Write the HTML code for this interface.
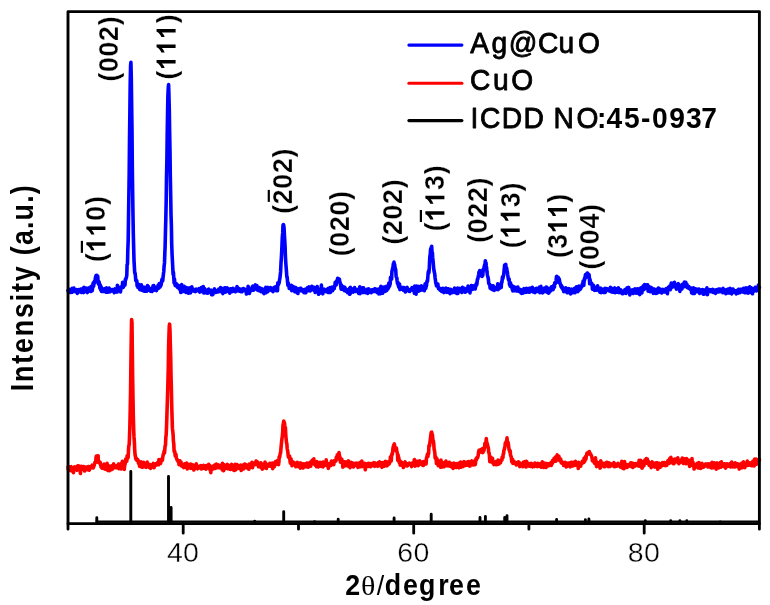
<!DOCTYPE html>
<html><head><meta charset="utf-8"><title>XRD patterns</title>
<style>
html,body{margin:0;padding:0;background:#fff;}
body{width:770px;height:605px;overflow:hidden;}
svg{display:block;filter:blur(0.35px);}
text{font-family:"Liberation Sans", sans-serif;fill:#000;}
.b{font-weight:bold;}
.m{stroke:#000;stroke-width:0.9px;stroke-linejoin:round;}
.pl text,.pl path{font-weight:bold;stroke:#fff;stroke-width:0.25px;stroke-linejoin:round;}
.l{stroke:#000;stroke-width:0.8px;stroke-linejoin:round;}
</style></head><body>
<svg width="770" height="605" viewBox="0 0 770 605">
<rect x="0" y="0" width="770" height="605" fill="#ffffff"/>
<path d="M96.8 522.0 V517.8 M130.8 522.0 V471.5 M168.5 522.0 V476.5 M171.1 522.0 V507.5 M254.7 522.0 V521.3 M283.7 522.0 V511.8 M314.6 522.0 V521.6 M338.2 522.0 V519.2 M394.1 522.0 V517.9 M431.2 522.0 V514.3 M480.0 522.0 V517.5 M485.4 522.0 V516.5 M504.7 522.0 V517.5 M507.0 522.0 V515.8 M556.6 522.0 V519.5 M585.4 522.0 V519.6 M588.9 522.0 V519.0 M645.3 522.0 V520.6 M670.7 522.0 V520.8 M679.9 522.0 V520.8 M686.8 522.0 V520.8 M720.2 522.0 V521.9" stroke="#000" stroke-width="2.9" fill="none" stroke-linecap="round"/>
<path d="M95.7 521.6 H759.4" stroke="#000" stroke-width="2.4" fill="none"/>
<path d="M68.0 467.0 L68.3 469.4 L68.7 470.4 L69.0 468.0 L69.4 466.8 L69.7 468.7 L70.1 469.5 L70.4 470.5 L70.8 466.9 L71.1 466.7 L71.5 469.8 L71.8 469.5 L72.1 471.1 L72.5 470.2 L72.8 468.5 L73.2 468.2 L73.5 472.6 L73.9 468.2 L74.2 467.4 L74.6 466.8 L74.9 468.7 L75.3 468.8 L75.6 468.0 L76.0 468.5 L76.3 469.0 L76.6 469.6 L77.0 470.2 L77.3 468.8 L77.7 465.7 L78.0 469.5 L78.4 466.2 L78.7 468.2 L79.1 466.1 L79.4 468.4 L79.8 467.2 L80.1 468.7 L80.4 473.5 L80.8 468.2 L81.1 469.6 L81.5 466.2 L81.8 467.8 L82.2 469.3 L82.5 468.1 L82.9 468.8 L83.2 468.3 L83.6 466.6 L83.9 469.0 L84.2 466.9 L84.6 471.0 L84.9 467.3 L85.3 469.1 L85.6 468.0 L86.0 469.5 L86.3 467.0 L86.7 469.5 L87.0 467.7 L87.4 469.8 L87.7 468.8 L88.1 468.0 L88.4 466.5 L88.7 468.9 L89.1 468.3 L89.4 470.1 L89.8 466.9 L90.1 468.3 L90.5 468.1 L90.8 467.7 L91.2 467.4 L91.5 467.3 L91.9 465.9 L92.2 465.1 L92.5 465.8 L92.9 467.0 L93.2 468.0 L93.6 466.7 L93.9 466.2 L94.3 465.0 L94.6 464.0 L95.0 462.2 L95.3 462.0 L95.7 462.3 L96.0 457.8 L96.3 456.1 L96.7 459.3 L97.0 456.2 L97.4 457.4 L97.7 457.8 L98.1 455.7 L98.4 462.4 L98.8 462.6 L99.1 461.3 L99.5 463.2 L99.8 463.2 L100.2 462.4 L100.5 464.3 L100.8 465.6 L101.2 467.2 L101.5 466.9 L101.9 466.1 L102.2 468.3 L102.6 465.2 L102.9 467.8 L103.3 468.3 L103.6 466.2 L104.0 464.0 L104.3 465.4 L104.6 467.2 L105.0 467.7 L105.3 469.3 L105.7 465.4 L106.0 466.9 L106.4 467.9 L106.7 466.7 L107.1 463.3 L107.4 468.2 L107.8 470.5 L108.1 468.5 L108.4 465.5 L108.8 466.3 L109.1 467.3 L109.5 470.8 L109.8 467.9 L110.2 467.1 L110.5 469.3 L110.9 466.7 L111.2 469.7 L111.6 465.8 L111.9 466.1 L112.2 467.9 L112.6 469.0 L112.9 467.7 L113.3 467.2 L113.6 463.9 L114.0 465.5 L114.3 465.7 L114.7 465.8 L115.0 467.5 L115.4 466.0 L115.7 467.8 L116.1 466.6 L116.4 466.0 L116.7 466.6 L117.1 467.1 L117.4 467.7 L117.8 465.6 L118.1 465.9 L118.5 464.1 L118.8 468.6 L119.2 468.4 L119.5 465.8 L119.9 465.2 L120.2 464.0 L120.5 466.1 L120.9 466.0 L121.2 469.0 L121.6 465.9 L121.9 464.2 L122.3 461.4 L122.6 467.3 L123.0 465.2 L123.3 462.2 L123.7 464.8 L124.0 461.8 L124.3 469.4 L124.7 465.4 L125.0 464.2 L125.4 462.6 L125.7 459.0 L126.1 461.6 L126.4 458.7 L126.8 461.2 L127.1 455.9 L127.5 456.5 L127.8 458.3 L128.2 456.9 L128.5 449.9 L128.8 445.9 L129.2 444.7 L129.5 437.8 L129.9 424.9 L130.2 410.9 L130.6 390.6 L130.9 363.3 L131.3 335.4 L131.6 319.5 L132.0 322.8 L132.3 348.9 L132.6 374.4 L133.0 398.9 L133.3 415.8 L133.7 429.9 L134.0 436.9 L134.4 442.3 L134.7 450.5 L135.1 454.8 L135.4 456.3 L135.8 458.9 L136.1 458.6 L136.4 458.3 L136.8 460.5 L137.1 460.6 L137.5 460.1 L137.8 459.7 L138.2 460.5 L138.5 463.2 L138.9 463.8 L139.2 463.1 L139.6 466.3 L139.9 464.6 L140.3 465.4 L140.6 466.6 L140.9 463.5 L141.3 461.9 L141.6 466.2 L142.0 464.1 L142.3 467.3 L142.7 465.9 L143.0 467.0 L143.4 466.7 L143.7 462.3 L144.1 466.7 L144.4 464.6 L144.7 464.5 L145.1 465.0 L145.4 466.9 L145.8 467.1 L146.1 467.3 L146.5 463.2 L146.8 464.9 L147.2 462.1 L147.5 465.6 L147.9 466.7 L148.2 464.6 L148.5 466.2 L148.9 466.1 L149.2 467.3 L149.6 464.5 L149.9 464.4 L150.3 464.5 L150.6 468.4 L151.0 467.3 L151.3 465.4 L151.7 465.9 L152.0 465.7 L152.4 465.8 L152.7 465.1 L153.0 464.9 L153.4 463.4 L153.7 464.3 L154.1 467.7 L154.4 465.9 L154.8 465.1 L155.1 464.6 L155.5 464.9 L155.8 465.3 L156.2 463.6 L156.5 464.8 L156.8 464.7 L157.2 463.0 L157.5 462.8 L157.9 462.3 L158.2 462.0 L158.6 464.8 L158.9 459.6 L159.3 462.5 L159.6 461.7 L160.0 461.4 L160.3 462.2 L160.6 463.4 L161.0 461.3 L161.3 460.5 L161.7 459.2 L162.0 459.3 L162.4 460.2 L162.7 457.4 L163.1 455.2 L163.4 454.0 L163.8 452.9 L164.1 451.0 L164.5 453.0 L164.8 449.6 L165.1 446.0 L165.5 445.2 L165.8 437.7 L166.2 434.5 L166.5 427.9 L166.9 416.0 L167.2 405.7 L167.6 394.4 L167.9 382.9 L168.3 367.6 L168.6 347.5 L168.9 336.9 L169.3 325.6 L169.6 324.2 L170.0 330.7 L170.3 343.8 L170.7 357.4 L171.0 374.8 L171.4 389.4 L171.7 405.1 L172.1 418.4 L172.4 428.4 L172.7 430.8 L173.1 434.5 L173.4 441.1 L173.8 443.9 L174.1 451.4 L174.5 451.6 L174.8 451.5 L175.2 455.7 L175.5 456.4 L175.9 454.2 L176.2 456.9 L176.5 458.2 L176.9 459.4 L177.2 460.2 L177.6 460.1 L177.9 461.4 L178.3 460.7 L178.6 460.6 L179.0 464.7 L179.3 463.3 L179.7 463.7 L180.0 460.8 L180.4 463.3 L180.7 465.0 L181.0 462.0 L181.4 465.9 L181.7 463.7 L182.1 465.1 L182.4 464.5 L182.8 465.1 L183.1 466.8 L183.5 464.4 L183.8 467.6 L184.2 464.1 L184.5 463.9 L184.8 466.6 L185.2 463.9 L185.5 465.0 L185.9 467.1 L186.2 467.6 L186.6 463.1 L186.9 466.7 L187.3 468.9 L187.6 467.9 L188.0 465.7 L188.3 465.2 L188.6 465.7 L189.0 464.4 L189.3 465.8 L189.7 466.0 L190.0 466.1 L190.4 468.2 L190.7 466.0 L191.1 464.2 L191.4 468.1 L191.8 464.8 L192.1 465.8 L192.5 466.3 L192.8 466.0 L193.1 465.0 L193.5 466.2 L193.8 470.0 L194.2 465.7 L194.5 466.5 L194.9 468.4 L195.2 467.9 L195.6 467.9 L195.9 468.1 L196.3 463.7 L196.6 465.4 L196.9 467.0 L197.3 467.6 L197.6 468.8 L198.0 467.6 L198.3 466.5 L198.7 466.9 L199.0 466.6 L199.4 467.3 L199.7 468.0 L200.1 466.4 L200.4 465.7 L200.7 465.6 L201.1 468.6 L201.4 468.9 L201.8 468.5 L202.1 468.3 L202.5 468.3 L202.8 467.0 L203.2 468.0 L203.5 465.4 L203.9 466.7 L204.2 465.9 L204.6 468.2 L204.9 466.1 L205.2 466.9 L205.6 467.7 L205.9 469.2 L206.3 465.8 L206.6 465.6 L207.0 468.3 L207.3 465.4 L207.7 467.8 L208.0 466.2 L208.4 466.9 L208.7 464.3 L209.0 468.2 L209.4 466.3 L209.7 465.7 L210.1 470.3 L210.4 468.2 L210.8 472.6 L211.1 467.8 L211.5 466.6 L211.8 467.3 L212.2 469.6 L212.5 467.1 L212.8 467.9 L213.2 468.0 L213.5 465.8 L213.9 467.4 L214.2 466.4 L214.6 465.2 L214.9 468.5 L215.3 468.2 L215.6 467.3 L216.0 465.8 L216.3 464.1 L216.7 467.9 L217.0 467.0 L217.3 464.6 L217.7 467.1 L218.0 464.8 L218.4 467.2 L218.7 467.4 L219.1 467.8 L219.4 467.5 L219.8 467.5 L220.1 465.4 L220.5 466.6 L220.8 466.4 L221.1 466.8 L221.5 467.6 L221.8 468.2 L222.2 469.8 L222.5 463.2 L222.9 467.8 L223.2 466.9 L223.6 470.7 L223.9 468.7 L224.3 464.7 L224.6 467.8 L224.9 466.4 L225.3 468.8 L225.6 465.6 L226.0 467.1 L226.3 467.0 L226.7 467.1 L227.0 466.3 L227.4 464.4 L227.7 467.9 L228.1 468.8 L228.4 467.1 L228.8 465.6 L229.1 467.5 L229.4 468.1 L229.8 466.9 L230.1 467.2 L230.5 469.4 L230.8 465.5 L231.2 466.3 L231.5 464.2 L231.9 466.1 L232.2 466.0 L232.6 465.6 L232.9 466.1 L233.2 469.9 L233.6 466.8 L233.9 466.9 L234.3 470.5 L234.6 467.0 L235.0 464.4 L235.3 467.7 L235.7 465.6 L236.0 469.6 L236.4 465.1 L236.7 466.1 L237.0 464.5 L237.4 467.1 L237.7 465.4 L238.1 466.9 L238.4 466.4 L238.8 466.0 L239.1 468.4 L239.5 468.4 L239.8 467.0 L240.2 465.5 L240.5 465.2 L240.8 467.3 L241.2 470.5 L241.5 466.1 L241.9 465.6 L242.2 465.7 L242.6 465.1 L242.9 465.2 L243.3 466.4 L243.6 468.9 L244.0 466.7 L244.3 465.8 L244.7 464.1 L245.0 466.9 L245.3 466.5 L245.7 464.6 L246.0 464.8 L246.4 466.4 L246.7 467.9 L247.1 467.3 L247.4 466.6 L247.8 465.7 L248.1 466.6 L248.5 466.0 L248.8 469.3 L249.1 464.1 L249.5 465.1 L249.8 467.6 L250.2 465.0 L250.5 467.5 L250.9 465.1 L251.2 465.2 L251.6 464.2 L251.9 462.4 L252.3 462.9 L252.6 467.6 L252.9 465.0 L253.3 464.7 L253.6 465.0 L254.0 464.3 L254.3 464.8 L254.7 462.7 L255.0 462.7 L255.4 464.6 L255.7 462.5 L256.1 461.1 L256.4 462.9 L256.8 462.5 L257.1 464.5 L257.4 462.6 L257.8 462.2 L258.1 463.6 L258.5 466.7 L258.8 464.3 L259.2 464.8 L259.5 464.7 L259.9 465.3 L260.2 466.4 L260.6 467.3 L260.9 462.7 L261.2 467.4 L261.6 465.4 L261.9 465.0 L262.3 469.2 L262.6 465.3 L263.0 468.6 L263.3 467.1 L263.7 464.1 L264.0 466.4 L264.4 466.8 L264.7 465.5 L265.0 462.1 L265.4 465.1 L265.7 465.4 L266.1 463.9 L266.4 468.5 L266.8 465.3 L267.1 465.0 L267.5 465.1 L267.8 464.4 L268.2 464.3 L268.5 465.7 L268.9 466.0 L269.2 464.7 L269.5 465.3 L269.9 463.2 L270.2 466.1 L270.6 464.1 L270.9 465.5 L271.3 463.7 L271.6 464.3 L272.0 465.3 L272.3 463.1 L272.7 468.7 L273.0 464.7 L273.3 464.6 L273.7 463.4 L274.0 466.9 L274.4 466.5 L274.7 464.6 L275.1 461.9 L275.4 463.1 L275.8 464.6 L276.1 462.6 L276.5 461.3 L276.8 461.0 L277.1 461.3 L277.5 462.1 L277.8 460.6 L278.2 461.1 L278.5 464.6 L278.9 462.2 L279.2 456.7 L279.6 457.5 L279.9 455.5 L280.3 453.3 L280.6 452.8 L281.0 448.0 L281.3 445.0 L281.6 441.6 L282.0 438.3 L282.3 436.6 L282.7 432.0 L283.0 425.1 L283.4 423.6 L283.7 421.0 L284.1 422.8 L284.4 422.6 L284.8 425.6 L285.1 427.1 L285.4 427.8 L285.8 435.3 L286.1 438.7 L286.5 442.8 L286.8 443.4 L287.2 448.5 L287.5 450.0 L287.9 452.2 L288.2 455.8 L288.6 457.4 L288.9 456.7 L289.2 456.5 L289.6 456.2 L289.9 459.9 L290.3 463.1 L290.6 461.8 L291.0 458.7 L291.3 461.2 L291.7 463.5 L292.0 465.7 L292.4 465.1 L292.7 464.0 L293.1 463.9 L293.4 462.1 L293.7 463.2 L294.1 463.5 L294.4 462.9 L294.8 464.3 L295.1 463.7 L295.5 464.9 L295.8 466.7 L296.2 465.6 L296.5 465.2 L296.9 464.2 L297.2 462.3 L297.5 464.5 L297.9 465.6 L298.2 463.2 L298.6 466.7 L298.9 464.3 L299.3 465.4 L299.6 464.4 L300.0 463.0 L300.3 468.1 L300.7 463.1 L301.0 466.4 L301.3 464.1 L301.7 465.4 L302.0 463.7 L302.4 464.4 L302.7 466.4 L303.1 468.0 L303.4 463.7 L303.8 465.0 L304.1 466.5 L304.5 464.0 L304.8 466.1 L305.2 463.8 L305.5 465.9 L305.8 465.7 L306.2 466.9 L306.5 465.5 L306.9 463.1 L307.2 465.9 L307.6 463.2 L307.9 466.0 L308.3 467.2 L308.6 465.7 L309.0 463.8 L309.3 466.5 L309.6 464.8 L310.0 462.4 L310.3 463.6 L310.7 466.2 L311.0 463.3 L311.4 463.7 L311.7 462.7 L312.1 460.3 L312.4 461.8 L312.8 462.9 L313.1 462.5 L313.4 461.9 L313.8 458.9 L314.1 464.2 L314.5 463.7 L314.8 464.4 L315.2 465.2 L315.5 462.7 L315.9 462.7 L316.2 464.4 L316.6 466.7 L316.9 461.6 L317.2 464.0 L317.6 463.4 L317.9 465.4 L318.3 466.9 L318.6 464.2 L319.0 462.8 L319.3 464.8 L319.7 464.3 L320.0 462.4 L320.4 466.1 L320.7 463.9 L321.1 465.8 L321.4 462.7 L321.7 466.5 L322.1 462.5 L322.4 466.4 L322.8 462.0 L323.1 466.9 L323.5 464.2 L323.8 462.3 L324.2 464.4 L324.5 465.3 L324.9 463.2 L325.2 464.0 L325.5 465.1 L325.9 464.4 L326.2 459.9 L326.6 464.0 L326.9 465.3 L327.3 465.1 L327.6 466.2 L328.0 463.5 L328.3 468.5 L328.7 465.7 L329.0 464.9 L329.3 466.1 L329.7 465.8 L330.0 464.4 L330.4 463.3 L330.7 465.7 L331.1 464.7 L331.4 461.0 L331.8 462.0 L332.1 464.3 L332.5 463.5 L332.8 463.6 L333.2 463.8 L333.5 462.7 L333.8 464.6 L334.2 460.8 L334.5 460.6 L334.9 461.2 L335.2 461.3 L335.6 460.7 L335.9 461.1 L336.3 457.4 L336.6 459.3 L337.0 457.6 L337.3 454.7 L337.6 455.7 L338.0 458.9 L338.3 456.9 L338.7 455.1 L339.0 452.5 L339.4 455.5 L339.7 456.2 L340.1 458.0 L340.4 462.2 L340.8 460.4 L341.1 460.4 L341.4 459.1 L341.8 459.2 L342.1 461.2 L342.5 461.3 L342.8 467.1 L343.2 462.1 L343.5 462.1 L343.9 465.1 L344.2 463.7 L344.6 461.8 L344.9 465.9 L345.3 463.5 L345.6 462.1 L345.9 464.7 L346.3 465.1 L346.6 463.9 L347.0 465.5 L347.3 465.8 L347.7 463.2 L348.0 461.4 L348.4 460.9 L348.7 464.4 L349.1 466.6 L349.4 466.3 L349.7 466.9 L350.1 467.6 L350.4 464.8 L350.8 466.4 L351.1 462.4 L351.5 465.9 L351.8 465.5 L352.2 464.7 L352.5 464.2 L352.9 463.2 L353.2 465.1 L353.5 466.9 L353.9 464.3 L354.2 465.7 L354.6 463.9 L354.9 465.3 L355.3 463.4 L355.6 465.5 L356.0 464.6 L356.3 465.5 L356.7 464.0 L357.0 463.2 L357.4 464.5 L357.7 466.6 L358.0 467.4 L358.4 464.5 L358.7 466.2 L359.1 466.2 L359.4 465.6 L359.8 462.6 L360.1 465.5 L360.5 463.5 L360.8 466.8 L361.2 466.2 L361.5 466.0 L361.8 461.1 L362.2 466.0 L362.5 466.1 L362.9 463.0 L363.2 466.5 L363.6 465.1 L363.9 464.7 L364.3 463.9 L364.6 463.4 L365.0 464.3 L365.3 469.8 L365.6 465.3 L366.0 465.3 L366.3 464.0 L366.7 464.1 L367.0 464.2 L367.4 463.6 L367.7 466.4 L368.1 464.6 L368.4 466.3 L368.8 463.2 L369.1 466.4 L369.5 464.9 L369.8 466.0 L370.1 464.8 L370.5 463.6 L370.8 466.8 L371.2 464.3 L371.5 464.7 L371.9 463.6 L372.2 465.3 L372.6 464.3 L372.9 465.4 L373.3 465.5 L373.6 463.9 L373.9 462.7 L374.3 465.6 L374.6 466.3 L375.0 466.0 L375.3 463.1 L375.7 465.8 L376.0 465.5 L376.4 465.3 L376.7 465.5 L377.1 464.3 L377.4 465.2 L377.7 466.3 L378.1 464.0 L378.4 462.6 L378.8 464.6 L379.1 465.1 L379.5 461.9 L379.8 463.7 L380.2 465.6 L380.5 464.4 L380.9 464.8 L381.2 462.7 L381.5 466.0 L381.9 467.3 L382.2 464.2 L382.6 463.4 L382.9 462.7 L383.3 465.8 L383.6 464.5 L384.0 463.1 L384.3 466.2 L384.7 465.4 L385.0 465.1 L385.4 461.3 L385.7 463.8 L386.0 464.9 L386.4 461.9 L386.7 465.1 L387.1 465.8 L387.4 465.0 L387.8 462.1 L388.1 461.9 L388.5 464.2 L388.8 464.0 L389.2 463.9 L389.5 463.4 L389.8 460.8 L390.2 459.7 L390.5 456.7 L390.9 459.8 L391.2 461.0 L391.6 455.6 L391.9 454.1 L392.3 454.4 L392.6 452.3 L393.0 448.0 L393.3 447.3 L393.6 445.2 L394.0 448.8 L394.3 443.8 L394.7 445.9 L395.0 447.9 L395.4 448.6 L395.7 449.1 L396.1 450.9 L396.4 448.1 L396.8 451.2 L397.1 452.2 L397.5 454.4 L397.8 460.3 L398.1 454.9 L398.5 459.4 L398.8 457.6 L399.2 462.4 L399.5 463.0 L399.9 460.7 L400.2 465.2 L400.6 462.5 L400.9 464.7 L401.3 463.4 L401.6 462.3 L401.9 462.7 L402.3 463.3 L402.6 464.6 L403.0 463.9 L403.3 467.5 L403.7 463.6 L404.0 463.2 L404.4 462.9 L404.7 462.9 L405.1 461.9 L405.4 462.7 L405.7 465.6 L406.1 464.4 L406.4 464.0 L406.8 464.9 L407.1 466.0 L407.5 465.3 L407.8 465.6 L408.2 463.6 L408.5 464.0 L408.9 463.3 L409.2 464.3 L409.6 463.2 L409.9 463.9 L410.2 464.2 L410.6 464.2 L410.9 464.1 L411.3 463.8 L411.6 466.6 L412.0 464.0 L412.3 463.0 L412.7 464.8 L413.0 462.8 L413.4 462.8 L413.7 464.6 L414.0 461.9 L414.4 459.5 L414.7 464.9 L415.1 466.1 L415.4 461.9 L415.8 463.0 L416.1 465.3 L416.5 461.3 L416.8 463.0 L417.2 462.5 L417.5 464.0 L417.8 461.2 L418.2 465.6 L418.5 464.0 L418.9 464.7 L419.2 463.6 L419.6 460.8 L419.9 463.8 L420.3 461.9 L420.6 463.9 L421.0 462.5 L421.3 463.3 L421.7 463.4 L422.0 464.8 L422.3 464.7 L422.7 461.8 L423.0 463.2 L423.4 465.4 L423.7 463.7 L424.1 461.6 L424.4 462.4 L424.8 461.7 L425.1 463.4 L425.5 461.6 L425.8 461.7 L426.1 464.0 L426.5 457.7 L426.8 457.4 L427.2 455.3 L427.5 454.2 L427.9 456.5 L428.2 453.9 L428.6 453.9 L428.9 446.0 L429.3 445.1 L429.6 445.9 L429.9 442.4 L430.3 439.4 L430.6 436.9 L431.0 433.6 L431.3 432.3 L431.7 432.2 L432.0 434.3 L432.4 434.5 L432.7 437.6 L433.1 442.1 L433.4 441.0 L433.8 444.4 L434.1 449.1 L434.4 450.2 L434.8 452.5 L435.1 457.9 L435.5 456.9 L435.8 456.9 L436.2 460.4 L436.5 463.5 L436.9 458.6 L437.2 459.9 L437.6 461.6 L437.9 460.9 L438.2 465.6 L438.6 463.3 L438.9 462.1 L439.3 463.7 L439.6 461.9 L440.0 462.3 L440.3 463.5 L440.7 467.2 L441.0 460.1 L441.4 464.4 L441.7 465.9 L442.0 465.0 L442.4 466.9 L442.7 464.7 L443.1 464.3 L443.4 463.9 L443.8 462.9 L444.1 466.8 L444.5 462.4 L444.8 464.1 L445.2 463.5 L445.5 463.2 L445.9 461.0 L446.2 463.8 L446.5 464.7 L446.9 464.7 L447.2 465.8 L447.6 464.3 L447.9 463.6 L448.3 465.0 L448.6 465.6 L449.0 463.2 L449.3 462.3 L449.7 463.0 L450.0 466.3 L450.3 466.2 L450.7 463.3 L451.0 464.8 L451.4 466.0 L451.7 466.8 L452.1 463.7 L452.4 464.3 L452.8 466.9 L453.1 468.5 L453.5 467.1 L453.8 463.0 L454.1 465.4 L454.5 464.3 L454.8 464.6 L455.2 463.7 L455.5 464.0 L455.9 464.7 L456.2 467.5 L456.6 465.8 L456.9 465.4 L457.3 464.8 L457.6 463.6 L457.9 464.4 L458.3 466.7 L458.6 466.0 L459.0 467.8 L459.3 465.1 L459.7 464.7 L460.0 462.2 L460.4 465.3 L460.7 462.0 L461.1 467.1 L461.4 463.7 L461.8 464.7 L462.1 462.6 L462.4 463.9 L462.8 463.2 L463.1 466.4 L463.5 465.0 L463.8 462.8 L464.2 461.6 L464.5 464.5 L464.9 463.8 L465.2 462.8 L465.6 465.4 L465.9 464.2 L466.2 464.7 L466.6 463.5 L466.9 463.5 L467.3 463.7 L467.6 461.9 L468.0 465.3 L468.3 464.9 L468.7 461.6 L469.0 464.4 L469.4 466.0 L469.7 464.5 L470.0 466.1 L470.4 463.6 L470.7 464.0 L471.1 461.9 L471.4 462.4 L471.8 460.9 L472.1 462.2 L472.5 463.9 L472.8 464.2 L473.2 465.0 L473.5 463.3 L473.9 461.3 L474.2 463.3 L474.5 462.1 L474.9 464.8 L475.2 464.6 L475.6 462.6 L475.9 458.8 L476.3 459.1 L476.6 459.5 L477.0 457.2 L477.3 458.2 L477.7 457.4 L478.0 456.5 L478.3 454.4 L478.7 451.5 L479.0 450.4 L479.4 450.5 L479.7 451.9 L480.1 451.7 L480.4 450.5 L480.8 449.6 L481.1 450.3 L481.5 451.0 L481.8 452.2 L482.1 452.0 L482.5 448.6 L482.8 452.6 L483.2 451.6 L483.5 449.8 L483.9 450.6 L484.2 449.2 L484.6 447.4 L484.9 443.3 L485.3 444.5 L485.6 443.7 L486.0 441.6 L486.3 438.6 L486.6 441.9 L487.0 443.1 L487.3 443.7 L487.7 446.0 L488.0 446.8 L488.4 448.5 L488.7 452.4 L489.1 452.9 L489.4 455.4 L489.8 461.6 L490.1 458.8 L490.4 459.0 L490.8 457.1 L491.1 460.4 L491.5 462.0 L491.8 460.2 L492.2 461.2 L492.5 458.4 L492.9 463.0 L493.2 461.4 L493.6 463.5 L493.9 464.6 L494.2 462.4 L494.6 464.2 L494.9 463.1 L495.3 462.4 L495.6 462.4 L496.0 461.5 L496.3 464.8 L496.7 464.1 L497.0 461.2 L497.4 464.0 L497.7 461.5 L498.1 460.2 L498.4 464.2 L498.7 460.3 L499.1 463.9 L499.4 462.2 L499.8 463.0 L500.1 462.1 L500.5 462.7 L500.8 461.0 L501.2 460.8 L501.5 459.7 L501.9 460.2 L502.2 457.0 L502.5 458.2 L502.9 457.8 L503.2 454.1 L503.6 453.5 L503.9 450.5 L504.3 449.2 L504.6 448.3 L505.0 445.7 L505.3 443.1 L505.7 443.0 L506.0 442.0 L506.3 441.4 L506.7 441.5 L507.0 437.8 L507.4 443.3 L507.7 441.9 L508.1 442.4 L508.4 444.6 L508.8 447.6 L509.1 450.0 L509.5 449.8 L509.8 452.2 L510.2 451.0 L510.5 455.1 L510.8 456.0 L511.2 456.6 L511.5 459.6 L511.9 461.9 L512.2 461.4 L512.6 459.3 L512.9 463.4 L513.3 460.9 L513.6 461.8 L514.0 461.3 L514.3 463.2 L514.6 463.5 L515.0 463.1 L515.3 462.7 L515.7 463.0 L516.0 462.7 L516.4 465.0 L516.7 462.8 L517.1 463.4 L517.4 463.4 L517.8 462.7 L518.1 463.6 L518.4 461.7 L518.8 464.7 L519.1 464.9 L519.5 463.7 L519.8 466.6 L520.2 463.0 L520.5 465.1 L520.9 465.1 L521.2 463.5 L521.6 464.0 L521.9 465.8 L522.2 464.5 L522.6 464.9 L522.9 466.7 L523.3 464.9 L523.6 462.0 L524.0 463.4 L524.3 465.9 L524.7 464.4 L525.0 463.0 L525.4 461.6 L525.7 465.2 L526.1 467.0 L526.4 462.8 L526.7 461.4 L527.1 465.5 L527.4 463.9 L527.8 464.3 L528.1 464.3 L528.5 463.4 L528.8 465.5 L529.2 466.2 L529.5 465.4 L529.9 463.9 L530.2 466.4 L530.5 464.6 L530.9 465.7 L531.2 463.4 L531.6 465.8 L531.9 466.0 L532.3 466.8 L532.6 464.9 L533.0 465.5 L533.3 464.0 L533.7 466.2 L534.0 466.1 L534.3 466.5 L534.7 464.3 L535.0 463.0 L535.4 464.8 L535.7 464.6 L536.1 463.7 L536.4 465.8 L536.8 466.3 L537.1 465.5 L537.5 466.6 L537.8 465.5 L538.2 463.4 L538.5 464.0 L538.8 464.3 L539.2 465.9 L539.5 466.3 L539.9 465.1 L540.2 466.4 L540.6 463.6 L540.9 464.7 L541.3 467.1 L541.6 465.5 L542.0 466.4 L542.3 461.9 L542.6 462.2 L543.0 463.5 L543.3 466.3 L543.7 467.3 L544.0 463.8 L544.4 463.2 L544.7 463.2 L545.1 463.3 L545.4 465.5 L545.8 464.2 L546.1 467.5 L546.4 465.7 L546.8 463.5 L547.1 464.9 L547.5 464.3 L547.8 465.7 L548.2 465.8 L548.5 463.9 L548.9 465.7 L549.2 465.1 L549.6 464.0 L549.9 464.5 L550.3 465.0 L550.6 463.4 L550.9 462.7 L551.3 465.5 L551.6 463.3 L552.0 462.2 L552.3 463.5 L552.7 460.3 L553.0 462.3 L553.4 459.7 L553.7 460.8 L554.1 458.2 L554.4 459.4 L554.7 461.3 L555.1 459.2 L555.4 457.1 L555.8 461.1 L556.1 457.0 L556.5 459.8 L556.8 456.5 L557.2 454.9 L557.5 459.9 L557.9 456.6 L558.2 458.6 L558.5 459.6 L558.9 456.3 L559.2 458.9 L559.6 458.4 L559.9 460.7 L560.3 460.3 L560.6 458.9 L561.0 461.3 L561.3 462.8 L561.7 461.6 L562.0 463.3 L562.4 461.9 L562.7 462.9 L563.0 463.7 L563.4 463.6 L563.7 465.5 L564.1 465.2 L564.4 465.2 L564.8 465.1 L565.1 464.3 L565.5 462.4 L565.8 465.9 L566.2 466.9 L566.5 464.7 L566.8 464.0 L567.2 464.4 L567.5 466.3 L567.9 464.9 L568.2 463.0 L568.6 464.3 L568.9 463.4 L569.3 464.3 L569.6 463.2 L570.0 463.3 L570.3 466.9 L570.6 466.2 L571.0 462.2 L571.3 463.1 L571.7 464.0 L572.0 464.0 L572.4 462.5 L572.7 466.0 L573.1 462.2 L573.4 465.7 L573.8 465.7 L574.1 464.0 L574.5 463.6 L574.8 464.7 L575.1 464.8 L575.5 461.4 L575.8 462.6 L576.2 465.3 L576.5 464.3 L576.9 463.8 L577.2 462.9 L577.6 463.3 L577.9 463.2 L578.3 468.5 L578.6 462.4 L578.9 466.5 L579.3 464.9 L579.6 464.4 L580.0 464.3 L580.3 463.3 L580.7 466.2 L581.0 464.4 L581.4 463.5 L581.7 463.1 L582.1 463.4 L582.4 461.1 L582.7 462.1 L583.1 461.3 L583.4 462.8 L583.8 462.4 L584.1 458.2 L584.5 460.1 L584.8 461.3 L585.2 457.2 L585.5 456.7 L585.9 459.2 L586.2 456.7 L586.5 455.3 L586.9 453.3 L587.2 454.6 L587.6 452.8 L587.9 453.3 L588.3 453.2 L588.6 453.3 L589.0 451.7 L589.3 451.6 L589.7 452.9 L590.0 453.2 L590.4 454.4 L590.7 454.1 L591.0 455.4 L591.4 455.7 L591.7 456.5 L592.1 458.5 L592.4 460.7 L592.8 458.8 L593.1 461.2 L593.5 461.4 L593.8 461.5 L594.2 462.8 L594.5 461.4 L594.8 463.4 L595.2 463.3 L595.5 457.8 L595.9 463.9 L596.2 464.4 L596.6 466.6 L596.9 462.2 L597.3 464.1 L597.6 464.6 L598.0 462.7 L598.3 466.0 L598.6 465.0 L599.0 463.1 L599.3 462.6 L599.7 463.8 L600.0 468.1 L600.4 467.8 L600.7 460.8 L601.1 461.9 L601.4 465.7 L601.8 464.5 L602.1 463.7 L602.5 465.7 L602.8 464.9 L603.1 465.2 L603.5 465.2 L603.8 463.2 L604.2 466.8 L604.5 464.2 L604.9 466.6 L605.2 465.9 L605.6 465.0 L605.9 465.1 L606.3 464.9 L606.6 462.2 L606.9 464.5 L607.3 465.6 L607.6 462.5 L608.0 462.7 L608.3 466.6 L608.7 466.2 L609.0 462.7 L609.4 465.7 L609.7 465.0 L610.1 466.5 L610.4 464.6 L610.7 464.7 L611.1 463.9 L611.4 465.3 L611.8 464.9 L612.1 464.1 L612.5 464.6 L612.8 463.9 L613.2 466.0 L613.5 463.5 L613.9 462.7 L614.2 463.6 L614.6 466.8 L614.9 464.3 L615.2 466.1 L615.6 466.2 L615.9 464.4 L616.3 466.3 L616.6 465.9 L617.0 465.1 L617.3 464.1 L617.7 465.1 L618.0 463.2 L618.4 464.7 L618.7 464.3 L619.0 465.8 L619.4 465.7 L619.7 464.2 L620.1 466.5 L620.4 467.0 L620.8 465.3 L621.1 464.0 L621.5 465.9 L621.8 461.4 L622.2 464.3 L622.5 466.1 L622.8 468.2 L623.2 464.1 L623.5 467.5 L623.9 468.7 L624.2 468.1 L624.6 461.6 L624.9 466.9 L625.3 465.5 L625.6 466.7 L626.0 464.9 L626.3 464.3 L626.7 464.9 L627.0 467.5 L627.3 466.5 L627.7 464.8 L628.0 465.8 L628.4 466.5 L628.7 466.1 L629.1 465.1 L629.4 464.2 L629.8 464.1 L630.1 464.5 L630.5 464.4 L630.8 462.8 L631.1 463.0 L631.5 466.6 L631.8 463.5 L632.2 463.2 L632.5 465.1 L632.9 467.4 L633.2 467.1 L633.6 464.6 L633.9 463.6 L634.3 464.4 L634.6 463.8 L634.9 464.4 L635.3 465.9 L635.6 463.6 L636.0 464.0 L636.3 464.8 L636.7 465.1 L637.0 464.0 L637.4 464.0 L637.7 463.4 L638.1 464.0 L638.4 466.0 L638.8 464.8 L639.1 460.4 L639.4 466.1 L639.8 465.0 L640.1 463.8 L640.5 464.7 L640.8 460.4 L641.2 462.4 L641.5 466.7 L641.9 468.1 L642.2 468.0 L642.6 463.3 L642.9 464.3 L643.2 465.1 L643.6 461.6 L643.9 465.8 L644.3 461.5 L644.6 462.6 L645.0 459.8 L645.3 461.7 L645.7 460.7 L646.0 462.1 L646.4 458.5 L646.7 460.3 L647.0 463.3 L647.4 459.0 L647.7 461.8 L648.1 462.4 L648.4 461.5 L648.8 462.4 L649.1 465.4 L649.5 465.4 L649.8 464.9 L650.2 464.7 L650.5 462.8 L650.9 464.9 L651.2 467.6 L651.5 466.6 L651.9 462.9 L652.2 461.9 L652.6 464.1 L652.9 465.4 L653.3 464.3 L653.6 464.7 L654.0 465.7 L654.3 466.6 L654.7 465.5 L655.0 467.1 L655.3 463.0 L655.7 465.9 L656.0 465.9 L656.4 462.9 L656.7 467.1 L657.1 462.7 L657.4 462.9 L657.8 469.3 L658.1 467.2 L658.5 465.7 L658.8 467.2 L659.1 466.9 L659.5 463.4 L659.8 465.8 L660.2 467.2 L660.5 464.8 L660.9 465.1 L661.2 464.2 L661.6 466.0 L661.9 463.9 L662.3 463.8 L662.6 462.7 L662.9 463.1 L663.3 464.8 L663.6 465.1 L664.0 463.6 L664.3 462.5 L664.7 464.5 L665.0 464.4 L665.4 465.6 L665.7 462.7 L666.1 462.7 L666.4 463.9 L666.8 465.3 L667.1 462.7 L667.4 462.4 L667.8 460.9 L668.1 461.6 L668.5 463.5 L668.8 463.1 L669.2 463.4 L669.5 458.9 L669.9 462.6 L670.2 459.7 L670.6 462.0 L670.9 457.2 L671.2 460.7 L671.6 459.4 L671.9 462.7 L672.3 460.8 L672.6 462.6 L673.0 459.9 L673.3 463.7 L673.7 459.9 L674.0 463.6 L674.4 460.0 L674.7 459.2 L675.0 462.2 L675.4 460.3 L675.7 460.9 L676.1 459.0 L676.4 460.6 L676.8 461.4 L677.1 460.2 L677.5 461.9 L677.8 457.8 L678.2 462.8 L678.5 460.7 L678.9 463.7 L679.2 460.8 L679.5 460.3 L679.9 460.6 L680.2 461.7 L680.6 462.1 L680.9 460.4 L681.3 459.8 L681.6 461.7 L682.0 462.2 L682.3 458.1 L682.7 459.2 L683.0 459.7 L683.3 463.4 L683.7 462.6 L684.0 461.9 L684.4 461.4 L684.7 458.9 L685.1 462.4 L685.4 460.0 L685.8 459.5 L686.1 463.8 L686.5 458.6 L686.8 463.2 L687.1 461.4 L687.5 459.8 L687.8 461.7 L688.2 460.3 L688.5 462.1 L688.9 460.9 L689.2 460.3 L689.6 466.5 L689.9 461.7 L690.3 464.3 L690.6 462.8 L691.0 464.2 L691.3 461.3 L691.6 461.8 L692.0 458.5 L692.3 465.4 L692.7 464.6 L693.0 462.2 L693.4 465.5 L693.7 465.3 L694.1 469.0 L694.4 464.9 L694.8 466.1 L695.1 465.7 L695.4 466.0 L695.8 464.8 L696.1 464.3 L696.5 466.1 L696.8 467.0 L697.2 463.3 L697.5 463.3 L697.9 465.1 L698.2 468.0 L698.6 464.9 L698.9 462.5 L699.2 466.5 L699.6 466.4 L699.9 468.3 L700.3 465.6 L700.6 468.4 L701.0 464.1 L701.3 466.7 L701.7 465.5 L702.0 463.4 L702.4 464.9 L702.7 467.4 L703.1 467.0 L703.4 464.7 L703.7 467.0 L704.1 466.7 L704.4 466.7 L704.8 465.7 L705.1 465.8 L705.5 464.0 L705.8 465.2 L706.2 465.5 L706.5 464.1 L706.9 464.8 L707.2 465.6 L707.5 465.6 L707.9 467.0 L708.2 463.7 L708.6 464.7 L708.9 465.7 L709.3 464.7 L709.6 465.8 L710.0 464.6 L710.3 467.2 L710.7 464.9 L711.0 463.5 L711.3 466.5 L711.7 467.9 L712.0 462.3 L712.4 465.1 L712.7 465.4 L713.1 466.9 L713.4 467.6 L713.8 465.1 L714.1 462.9 L714.5 466.3 L714.8 466.9 L715.2 466.0 L715.5 465.4 L715.8 464.0 L716.2 469.1 L716.5 463.4 L716.9 462.9 L717.2 466.8 L717.6 465.8 L717.9 466.4 L718.3 465.9 L718.6 467.9 L719.0 467.5 L719.3 464.4 L719.6 466.9 L720.0 463.5 L720.3 462.6 L720.7 467.2 L721.0 464.6 L721.4 461.9 L721.7 465.3 L722.1 464.3 L722.4 466.1 L722.8 465.2 L723.1 464.1 L723.4 464.2 L723.8 466.5 L724.1 463.8 L724.5 465.5 L724.8 463.8 L725.2 466.0 L725.5 468.1 L725.9 466.2 L726.2 467.1 L726.6 466.0 L726.9 463.8 L727.2 464.8 L727.6 465.4 L727.9 466.0 L728.3 464.4 L728.6 466.3 L729.0 464.2 L729.3 465.4 L729.7 465.3 L730.0 463.5 L730.4 466.9 L730.7 465.4 L731.1 465.5 L731.4 465.3 L731.7 462.0 L732.1 463.1 L732.4 463.9 L732.8 466.9 L733.1 464.4 L733.5 466.3 L733.8 463.7 L734.2 464.0 L734.5 464.6 L734.9 467.0 L735.2 462.7 L735.5 465.0 L735.9 465.9 L736.2 465.5 L736.6 465.3 L736.9 466.5 L737.3 465.8 L737.6 463.7 L738.0 466.3 L738.3 464.1 L738.7 464.8 L739.0 467.6 L739.3 469.1 L739.7 467.6 L740.0 466.0 L740.4 464.1 L740.7 464.1 L741.1 467.9 L741.4 465.8 L741.8 463.1 L742.1 467.8 L742.5 466.2 L742.8 467.4 L743.2 465.9 L743.5 461.9 L743.8 464.1 L744.2 465.0 L744.5 465.0 L744.9 467.6 L745.2 464.2 L745.6 465.0 L745.9 465.1 L746.3 465.0 L746.6 463.5 L747.0 463.1 L747.3 461.0 L747.6 465.5 L748.0 464.6 L748.3 465.1 L748.7 463.1 L749.0 464.7 L749.4 463.0 L749.7 462.9 L750.1 464.9 L750.4 465.2 L750.8 465.0 L751.1 463.9 L751.4 463.2 L751.8 465.8 L752.1 465.4 L752.5 462.3 L752.8 461.4 L753.2 463.5 L753.5 463.3 L753.9 461.2 L754.2 466.0 L754.6 459.1 L754.9 460.9 L755.3 462.5 L755.6 463.6 L755.9 459.0 L756.3 461.2 L756.6 464.1 L757.0 464.0 L757.3 461.4 L757.7 461.9 L758.0 460.5 L758.4 462.6 L758.7 460.4 L759.1 459.0 L759.4 459.9" stroke="#ff0000" stroke-width="3.6" fill="none" stroke-linejoin="round" stroke-linecap="round"/>
<path d="M68.0 290.4 L68.3 291.6 L68.7 290.5 L69.0 290.3 L69.4 289.4 L69.7 290.5 L70.1 292.5 L70.4 291.5 L70.8 292.4 L71.1 291.2 L71.5 291.4 L71.8 291.1 L72.1 288.2 L72.5 292.1 L72.8 291.6 L73.2 291.6 L73.5 288.2 L73.9 288.1 L74.2 289.4 L74.6 290.0 L74.9 291.2 L75.3 290.7 L75.6 291.6 L76.0 289.8 L76.3 291.2 L76.6 291.4 L77.0 289.7 L77.3 293.4 L77.7 291.6 L78.0 292.6 L78.4 289.8 L78.7 289.6 L79.1 290.2 L79.4 290.5 L79.8 291.7 L80.1 291.1 L80.4 290.0 L80.8 289.2 L81.1 289.8 L81.5 292.5 L81.8 289.4 L82.2 291.0 L82.5 291.3 L82.9 288.3 L83.2 290.7 L83.6 292.6 L83.9 287.4 L84.2 290.0 L84.6 290.3 L84.9 289.2 L85.3 291.2 L85.6 290.3 L86.0 288.1 L86.3 291.7 L86.7 291.4 L87.0 291.8 L87.4 292.5 L87.7 290.8 L88.1 290.4 L88.4 288.1 L88.7 291.0 L89.1 289.1 L89.4 289.2 L89.8 287.9 L90.1 288.3 L90.5 288.8 L90.8 291.5 L91.2 286.2 L91.5 286.9 L91.9 289.2 L92.2 290.8 L92.5 289.0 L92.9 284.5 L93.2 282.8 L93.6 286.3 L93.9 283.5 L94.3 281.5 L94.6 283.1 L95.0 281.6 L95.3 278.3 L95.7 276.7 L96.0 275.6 L96.3 276.7 L96.7 275.3 L97.0 276.1 L97.4 277.6 L97.7 276.1 L98.1 282.4 L98.4 283.6 L98.8 284.5 L99.1 281.9 L99.5 285.0 L99.8 288.2 L100.2 284.8 L100.5 287.8 L100.8 290.1 L101.2 286.8 L101.5 291.5 L101.9 290.1 L102.2 289.1 L102.6 290.0 L102.9 290.6 L103.3 289.8 L103.6 291.5 L104.0 288.8 L104.3 289.2 L104.6 291.5 L105.0 289.9 L105.3 288.6 L105.7 291.4 L106.0 292.2 L106.4 289.3 L106.7 287.9 L107.1 289.8 L107.4 289.8 L107.8 289.6 L108.1 292.2 L108.4 288.4 L108.8 292.0 L109.1 288.0 L109.5 288.8 L109.8 291.0 L110.2 291.7 L110.5 291.3 L110.9 290.5 L111.2 290.2 L111.6 290.2 L111.9 290.8 L112.2 289.6 L112.6 290.3 L112.9 290.7 L113.3 289.8 L113.6 290.9 L114.0 290.6 L114.3 292.8 L114.7 290.1 L115.0 288.9 L115.4 289.0 L115.7 289.5 L116.1 290.9 L116.4 288.9 L116.7 289.9 L117.1 292.1 L117.4 285.2 L117.8 287.3 L118.1 289.4 L118.5 289.5 L118.8 289.2 L119.2 288.0 L119.5 289.6 L119.9 288.8 L120.2 287.4 L120.5 291.9 L120.9 288.5 L121.2 286.8 L121.6 287.3 L121.9 286.9 L122.3 286.8 L122.6 282.4 L123.0 285.5 L123.3 287.4 L123.7 283.6 L124.0 284.8 L124.3 285.7 L124.7 284.9 L125.0 285.0 L125.4 279.1 L125.7 279.9 L126.1 278.2 L126.4 277.5 L126.8 275.1 L127.1 264.7 L127.5 263.9 L127.8 250.5 L128.2 240.4 L128.5 219.2 L128.8 199.0 L129.2 173.2 L129.5 140.5 L129.9 110.0 L130.2 83.8 L130.6 65.5 L130.9 62.4 L131.3 77.8 L131.6 101.6 L132.0 129.8 L132.3 165.6 L132.6 188.2 L133.0 215.8 L133.3 233.5 L133.7 248.9 L134.0 260.4 L134.4 267.2 L134.7 273.0 L135.1 273.1 L135.4 275.7 L135.8 280.7 L136.1 279.7 L136.4 280.6 L136.8 280.8 L137.1 285.8 L137.5 285.7 L137.8 287.3 L138.2 284.1 L138.5 285.9 L138.9 284.5 L139.2 287.8 L139.6 289.3 L139.9 285.8 L140.3 289.8 L140.6 289.1 L140.9 287.5 L141.3 284.8 L141.6 290.2 L142.0 288.0 L142.3 287.3 L142.7 289.0 L143.0 289.1 L143.4 290.9 L143.7 287.1 L144.1 290.5 L144.4 291.1 L144.7 291.1 L145.1 288.6 L145.4 287.7 L145.8 290.5 L146.1 289.1 L146.5 289.2 L146.8 291.2 L147.2 288.6 L147.5 285.5 L147.9 288.5 L148.2 286.2 L148.5 290.3 L148.9 289.6 L149.2 288.1 L149.6 289.0 L149.9 290.3 L150.3 289.2 L150.6 291.1 L151.0 288.9 L151.3 290.6 L151.7 291.2 L152.0 291.4 L152.4 287.8 L152.7 290.2 L153.0 285.8 L153.4 287.0 L153.7 285.6 L154.1 290.2 L154.4 286.6 L154.8 288.4 L155.1 288.0 L155.5 288.2 L155.8 287.2 L156.2 288.3 L156.5 290.6 L156.8 287.8 L157.2 288.4 L157.5 288.9 L157.9 286.9 L158.2 285.0 L158.6 285.9 L158.9 288.1 L159.3 283.6 L159.6 284.9 L160.0 287.0 L160.3 286.3 L160.6 284.6 L161.0 285.3 L161.3 283.7 L161.7 280.9 L162.0 279.4 L162.4 279.8 L162.7 280.9 L163.1 277.0 L163.4 274.2 L163.8 271.4 L164.1 266.2 L164.5 262.9 L164.8 253.9 L165.1 246.8 L165.5 230.4 L165.8 219.5 L166.2 200.1 L166.5 177.7 L166.9 159.6 L167.2 135.4 L167.6 111.1 L167.9 95.9 L168.3 87.3 L168.6 84.6 L168.9 94.2 L169.3 109.4 L169.6 129.5 L170.0 151.4 L170.3 175.6 L170.7 195.6 L171.0 214.1 L171.4 226.2 L171.7 243.9 L172.1 255.0 L172.4 260.5 L172.7 266.3 L173.1 274.5 L173.4 272.1 L173.8 278.0 L174.1 282.9 L174.5 279.1 L174.8 282.7 L175.2 285.5 L175.5 283.2 L175.9 284.9 L176.2 286.0 L176.5 283.7 L176.9 285.4 L177.2 286.4 L177.6 287.5 L177.9 286.5 L178.3 286.6 L178.6 285.5 L179.0 286.8 L179.3 289.0 L179.7 287.9 L180.0 286.6 L180.4 286.8 L180.7 292.4 L181.0 290.2 L181.4 289.5 L181.7 284.6 L182.1 289.7 L182.4 289.6 L182.8 291.6 L183.1 289.7 L183.5 289.0 L183.8 290.0 L184.2 286.3 L184.5 290.9 L184.8 289.9 L185.2 288.4 L185.5 291.6 L185.9 292.4 L186.2 287.5 L186.6 288.6 L186.9 290.2 L187.3 290.0 L187.6 289.2 L188.0 288.3 L188.3 293.2 L188.6 291.5 L189.0 288.1 L189.3 287.9 L189.7 292.6 L190.0 291.6 L190.4 292.9 L190.7 291.3 L191.1 288.8 L191.4 290.5 L191.8 286.8 L192.1 289.0 L192.5 290.1 L192.8 291.0 L193.1 289.1 L193.5 290.1 L193.8 291.0 L194.2 290.9 L194.5 291.3 L194.9 290.6 L195.2 289.8 L195.6 291.6 L195.9 290.4 L196.3 289.1 L196.6 289.4 L196.9 290.4 L197.3 290.2 L197.6 290.7 L198.0 290.4 L198.3 290.7 L198.7 290.3 L199.0 288.5 L199.4 291.1 L199.7 292.1 L200.1 291.2 L200.4 290.2 L200.7 291.2 L201.1 289.0 L201.4 287.6 L201.8 290.6 L202.1 289.1 L202.5 291.7 L202.8 288.9 L203.2 286.5 L203.5 289.0 L203.9 293.0 L204.2 290.0 L204.6 288.5 L204.9 289.4 L205.2 291.4 L205.6 291.4 L205.9 290.9 L206.3 292.9 L206.6 291.7 L207.0 290.6 L207.3 291.6 L207.7 293.2 L208.0 292.1 L208.4 292.2 L208.7 289.0 L209.0 290.4 L209.4 291.8 L209.7 290.2 L210.1 292.3 L210.4 291.6 L210.8 292.1 L211.1 290.3 L211.5 294.6 L211.8 292.6 L212.2 290.4 L212.5 290.8 L212.8 294.7 L213.2 290.2 L213.5 292.1 L213.9 292.2 L214.2 290.7 L214.6 288.9 L214.9 291.0 L215.3 291.3 L215.6 292.5 L216.0 291.9 L216.3 290.8 L216.7 292.0 L217.0 291.6 L217.3 291.0 L217.7 290.8 L218.0 290.3 L218.4 291.8 L218.7 289.1 L219.1 289.8 L219.4 290.7 L219.8 288.5 L220.1 290.1 L220.5 287.6 L220.8 289.7 L221.1 291.6 L221.5 291.6 L221.8 290.7 L222.2 290.4 L222.5 288.5 L222.9 293.6 L223.2 291.5 L223.6 292.4 L223.9 289.4 L224.3 290.5 L224.6 287.9 L224.9 292.0 L225.3 292.2 L225.6 287.8 L226.0 290.7 L226.3 291.7 L226.7 288.0 L227.0 287.9 L227.4 289.1 L227.7 289.8 L228.1 288.6 L228.4 290.8 L228.8 291.1 L229.1 291.7 L229.4 291.8 L229.8 293.1 L230.1 292.5 L230.5 288.7 L230.8 290.0 L231.2 289.1 L231.5 289.1 L231.9 290.6 L232.2 290.7 L232.6 291.5 L232.9 288.3 L233.2 288.8 L233.6 290.7 L233.9 290.4 L234.3 290.2 L234.6 290.6 L235.0 289.5 L235.3 291.8 L235.7 291.3 L236.0 290.6 L236.4 289.7 L236.7 290.4 L237.0 286.5 L237.4 289.2 L237.7 290.7 L238.1 288.4 L238.4 291.0 L238.8 290.9 L239.1 288.5 L239.5 290.3 L239.8 290.2 L240.2 291.4 L240.5 291.6 L240.8 290.6 L241.2 289.3 L241.5 290.4 L241.9 290.5 L242.2 291.7 L242.6 291.0 L242.9 289.5 L243.3 288.5 L243.6 290.0 L244.0 289.4 L244.3 288.8 L244.7 290.3 L245.0 289.7 L245.3 290.6 L245.7 291.2 L246.0 289.8 L246.4 294.0 L246.7 289.8 L247.1 292.0 L247.4 290.4 L247.8 291.9 L248.1 286.4 L248.5 288.9 L248.8 290.3 L249.1 290.8 L249.5 293.4 L249.8 290.1 L250.2 291.5 L250.5 290.5 L250.9 290.6 L251.2 289.7 L251.6 288.4 L251.9 289.2 L252.3 286.5 L252.6 289.7 L252.9 286.0 L253.3 287.6 L253.6 290.2 L254.0 286.4 L254.3 286.5 L254.7 288.1 L255.0 286.3 L255.4 284.9 L255.7 286.7 L256.1 287.3 L256.4 287.7 L256.8 285.6 L257.1 289.8 L257.4 290.0 L257.8 287.7 L258.1 288.4 L258.5 287.5 L258.8 290.6 L259.2 287.6 L259.5 289.9 L259.9 288.3 L260.2 288.2 L260.6 290.5 L260.9 291.6 L261.2 289.6 L261.6 288.7 L261.9 291.1 L262.3 289.8 L262.6 290.4 L263.0 292.3 L263.3 291.7 L263.7 289.2 L264.0 293.6 L264.4 290.1 L264.7 291.3 L265.0 289.1 L265.4 290.0 L265.7 287.4 L266.1 292.8 L266.4 292.2 L266.8 288.2 L267.1 287.7 L267.5 287.5 L267.8 291.8 L268.2 289.3 L268.5 289.9 L268.9 289.4 L269.2 289.7 L269.5 288.2 L269.9 289.9 L270.2 287.6 L270.6 289.6 L270.9 290.2 L271.3 290.4 L271.6 289.2 L272.0 288.1 L272.3 289.7 L272.7 288.6 L273.0 291.7 L273.3 290.4 L273.7 288.9 L274.0 288.2 L274.4 287.7 L274.7 287.2 L275.1 287.9 L275.4 288.7 L275.8 288.8 L276.1 288.7 L276.5 290.8 L276.8 286.1 L277.1 286.8 L277.5 290.7 L277.8 282.9 L278.2 284.3 L278.5 284.5 L278.9 283.4 L279.2 282.4 L279.6 279.6 L279.9 278.2 L280.3 274.6 L280.6 271.9 L281.0 263.0 L281.3 258.9 L281.6 253.7 L282.0 244.9 L282.3 237.3 L282.7 232.9 L283.0 225.4 L283.4 224.6 L283.7 225.3 L284.1 228.5 L284.4 234.9 L284.8 241.3 L285.1 246.8 L285.4 256.0 L285.8 263.0 L286.1 266.8 L286.5 271.9 L286.8 276.8 L287.2 277.1 L287.5 281.6 L287.9 285.2 L288.2 282.7 L288.6 284.8 L288.9 285.2 L289.2 288.4 L289.6 287.0 L289.9 288.4 L290.3 286.3 L290.6 287.6 L291.0 287.9 L291.3 285.4 L291.7 290.6 L292.0 290.0 L292.4 286.0 L292.7 290.0 L293.1 288.8 L293.4 289.8 L293.7 289.8 L294.1 287.0 L294.4 289.1 L294.8 291.8 L295.1 288.7 L295.5 288.1 L295.8 287.6 L296.2 287.9 L296.5 290.3 L296.9 292.5 L297.2 290.6 L297.5 290.3 L297.9 293.5 L298.2 289.2 L298.6 289.0 L298.9 290.9 L299.3 291.0 L299.6 288.6 L300.0 288.4 L300.3 290.7 L300.7 290.6 L301.0 288.2 L301.3 289.9 L301.7 289.4 L302.0 291.0 L302.4 290.1 L302.7 290.2 L303.1 289.8 L303.4 292.0 L303.8 292.5 L304.1 289.8 L304.5 291.6 L304.8 289.2 L305.2 290.4 L305.5 291.5 L305.8 292.7 L306.2 289.7 L306.5 290.2 L306.9 290.6 L307.2 287.9 L307.6 290.3 L307.9 289.1 L308.3 290.7 L308.6 288.3 L309.0 286.9 L309.3 290.0 L309.6 290.2 L310.0 288.8 L310.3 290.9 L310.7 288.9 L311.0 288.2 L311.4 289.7 L311.7 286.4 L312.1 287.5 L312.4 288.4 L312.8 289.6 L313.1 288.0 L313.4 288.7 L313.8 287.2 L314.1 288.8 L314.5 291.0 L314.8 287.5 L315.2 292.5 L315.5 288.0 L315.9 289.2 L316.2 289.6 L316.6 291.1 L316.9 287.8 L317.2 286.6 L317.6 290.9 L317.9 291.3 L318.3 291.1 L318.6 294.3 L319.0 290.6 L319.3 290.7 L319.7 291.8 L320.0 290.9 L320.4 293.0 L320.7 288.5 L321.1 289.9 L321.4 285.1 L321.7 291.7 L322.1 289.9 L322.4 291.9 L322.8 293.8 L323.1 290.5 L323.5 290.1 L323.8 289.7 L324.2 289.2 L324.5 289.5 L324.9 291.4 L325.2 290.5 L325.5 290.5 L325.9 290.2 L326.2 291.8 L326.6 291.2 L326.9 290.2 L327.3 291.4 L327.6 290.1 L328.0 288.5 L328.3 292.5 L328.7 291.0 L329.0 288.7 L329.3 291.8 L329.7 290.7 L330.0 287.6 L330.4 292.5 L330.7 290.5 L331.1 291.2 L331.4 290.1 L331.8 289.4 L332.1 287.1 L332.5 290.8 L332.8 289.2 L333.2 288.4 L333.5 289.1 L333.8 288.2 L334.2 288.7 L334.5 286.5 L334.9 286.4 L335.2 282.3 L335.6 284.1 L335.9 284.8 L336.3 284.8 L336.6 281.1 L337.0 280.4 L337.3 282.1 L337.6 278.4 L338.0 279.6 L338.3 281.0 L338.7 278.8 L339.0 281.3 L339.4 279.2 L339.7 281.6 L340.1 282.3 L340.4 283.6 L340.8 286.2 L341.1 289.1 L341.4 285.1 L341.8 286.0 L342.1 288.3 L342.5 286.4 L342.8 289.2 L343.2 289.7 L343.5 288.6 L343.9 290.1 L344.2 287.1 L344.6 290.8 L344.9 287.4 L345.3 288.8 L345.6 289.1 L345.9 289.4 L346.3 291.4 L346.6 290.3 L347.0 289.6 L347.3 291.1 L347.7 292.7 L348.0 290.3 L348.4 290.9 L348.7 292.3 L349.1 290.8 L349.4 288.4 L349.7 294.3 L350.1 293.9 L350.4 287.4 L350.8 290.5 L351.1 291.2 L351.5 292.0 L351.8 291.6 L352.2 290.2 L352.5 289.0 L352.9 290.8 L353.2 292.2 L353.5 288.9 L353.9 289.0 L354.2 290.6 L354.6 287.6 L354.9 290.2 L355.3 290.0 L355.6 291.4 L356.0 289.6 L356.3 289.3 L356.7 290.1 L357.0 290.6 L357.4 289.6 L357.7 290.7 L358.0 291.8 L358.4 292.5 L358.7 293.3 L359.1 289.5 L359.4 290.0 L359.8 286.8 L360.1 293.6 L360.5 289.6 L360.8 290.6 L361.2 291.5 L361.5 288.6 L361.8 291.4 L362.2 290.7 L362.5 287.9 L362.9 291.2 L363.2 292.6 L363.6 287.8 L363.9 292.0 L364.3 291.0 L364.6 291.4 L365.0 291.4 L365.3 292.7 L365.6 290.3 L366.0 292.0 L366.3 290.1 L366.7 291.8 L367.0 289.4 L367.4 290.5 L367.7 293.4 L368.1 291.4 L368.4 290.4 L368.8 288.9 L369.1 289.4 L369.5 291.0 L369.8 292.1 L370.1 291.3 L370.5 291.4 L370.8 290.6 L371.2 292.7 L371.5 290.0 L371.9 289.8 L372.2 292.0 L372.6 290.7 L372.9 290.2 L373.3 289.7 L373.6 290.2 L373.9 291.5 L374.3 291.1 L374.6 288.7 L375.0 291.2 L375.3 290.8 L375.7 289.0 L376.0 291.7 L376.4 290.0 L376.7 289.9 L377.1 291.7 L377.4 292.5 L377.7 289.3 L378.1 291.1 L378.4 289.0 L378.8 293.9 L379.1 289.6 L379.5 292.1 L379.8 289.3 L380.2 291.5 L380.5 293.6 L380.9 286.2 L381.2 289.5 L381.5 290.9 L381.9 289.9 L382.2 289.0 L382.6 293.3 L382.9 290.0 L383.3 287.3 L383.6 291.1 L384.0 287.0 L384.3 291.4 L384.7 288.6 L385.0 289.7 L385.4 291.3 L385.7 289.4 L386.0 286.9 L386.4 286.3 L386.7 290.5 L387.1 289.6 L387.4 287.0 L387.8 289.2 L388.1 288.3 L388.5 288.0 L388.8 283.0 L389.2 285.3 L389.5 286.3 L389.8 284.9 L390.2 283.9 L390.5 277.3 L390.9 279.6 L391.2 278.2 L391.6 279.2 L391.9 271.5 L392.3 270.1 L392.6 268.3 L393.0 267.5 L393.3 263.8 L393.6 265.3 L394.0 262.1 L394.3 264.5 L394.7 264.7 L395.0 267.7 L395.4 268.7 L395.7 269.7 L396.1 276.2 L396.4 277.2 L396.8 277.8 L397.1 280.8 L397.5 283.6 L397.8 281.9 L398.1 284.3 L398.5 286.2 L398.8 287.0 L399.2 286.3 L399.5 284.0 L399.9 289.6 L400.2 288.6 L400.6 288.3 L400.9 288.1 L401.3 289.2 L401.6 288.3 L401.9 287.5 L402.3 288.0 L402.6 288.4 L403.0 288.4 L403.3 287.7 L403.7 290.5 L404.0 287.6 L404.4 290.7 L404.7 288.2 L405.1 290.3 L405.4 292.0 L405.7 290.2 L406.1 288.8 L406.4 290.0 L406.8 290.2 L407.1 287.3 L407.5 289.1 L407.8 290.3 L408.2 289.3 L408.5 290.2 L408.9 291.2 L409.2 291.3 L409.6 291.5 L409.9 291.0 L410.2 289.7 L410.6 290.1 L410.9 289.7 L411.3 289.6 L411.6 289.9 L412.0 287.5 L412.3 289.6 L412.7 290.1 L413.0 288.6 L413.4 290.1 L413.7 290.9 L414.0 289.8 L414.4 293.3 L414.7 286.0 L415.1 289.7 L415.4 287.2 L415.8 291.5 L416.1 294.1 L416.5 286.1 L416.8 290.1 L417.2 290.7 L417.5 289.4 L417.8 290.7 L418.2 286.3 L418.5 291.1 L418.9 290.3 L419.2 289.7 L419.6 288.7 L419.9 290.5 L420.3 288.7 L420.6 289.7 L421.0 288.5 L421.3 285.7 L421.7 289.0 L422.0 289.3 L422.3 290.0 L422.7 287.4 L423.0 288.5 L423.4 289.3 L423.7 288.4 L424.1 289.9 L424.4 290.7 L424.8 285.9 L425.1 283.9 L425.5 287.8 L425.8 288.2 L426.1 286.5 L426.5 285.5 L426.8 282.1 L427.2 280.5 L427.5 281.3 L427.9 276.4 L428.2 272.5 L428.6 270.8 L428.9 272.9 L429.3 268.3 L429.6 260.3 L429.9 256.2 L430.3 253.9 L430.6 249.1 L431.0 250.1 L431.3 247.2 L431.7 246.4 L432.0 252.3 L432.4 252.6 L432.7 257.7 L433.1 261.4 L433.4 264.9 L433.8 269.6 L434.1 271.3 L434.4 272.5 L434.8 274.4 L435.1 278.0 L435.5 280.5 L435.8 283.0 L436.2 284.3 L436.5 286.0 L436.9 286.0 L437.2 285.2 L437.6 285.8 L437.9 284.1 L438.2 287.4 L438.6 288.7 L438.9 289.0 L439.3 288.2 L439.6 288.3 L440.0 290.2 L440.3 288.9 L440.7 290.2 L441.0 290.0 L441.4 289.6 L441.7 291.4 L442.0 288.5 L442.4 288.9 L442.7 288.3 L443.1 288.4 L443.4 292.1 L443.8 292.5 L444.1 289.8 L444.5 290.7 L444.8 291.7 L445.2 291.2 L445.5 291.8 L445.9 288.1 L446.2 289.1 L446.5 290.8 L446.9 292.3 L447.2 290.3 L447.6 288.8 L447.9 289.6 L448.3 289.2 L448.6 288.9 L449.0 292.5 L449.3 289.3 L449.7 290.3 L450.0 293.6 L450.3 292.1 L450.7 290.8 L451.0 289.4 L451.4 290.9 L451.7 292.8 L452.1 291.3 L452.4 292.3 L452.8 290.5 L453.1 291.1 L453.5 290.0 L453.8 291.0 L454.1 292.4 L454.5 288.1 L454.8 290.3 L455.2 290.7 L455.5 289.5 L455.9 289.9 L456.2 291.6 L456.6 293.5 L456.9 291.3 L457.3 290.9 L457.6 288.0 L457.9 293.4 L458.3 290.5 L458.6 290.3 L459.0 288.6 L459.3 290.3 L459.7 288.6 L460.0 290.4 L460.4 291.1 L460.7 290.4 L461.1 290.7 L461.4 289.0 L461.8 292.5 L462.1 289.3 L462.4 287.4 L462.8 290.0 L463.1 289.1 L463.5 288.7 L463.8 289.7 L464.2 290.6 L464.5 288.3 L464.9 289.9 L465.2 292.3 L465.6 291.2 L465.9 289.8 L466.2 290.2 L466.6 289.8 L466.9 289.9 L467.3 291.1 L467.6 289.8 L468.0 286.1 L468.3 289.8 L468.7 288.4 L469.0 290.7 L469.4 288.7 L469.7 289.8 L470.0 292.9 L470.4 287.8 L470.7 287.6 L471.1 287.1 L471.4 285.5 L471.8 286.1 L472.1 289.5 L472.5 287.8 L472.8 285.7 L473.2 286.0 L473.5 289.0 L473.9 286.6 L474.2 286.8 L474.5 287.5 L474.9 288.6 L475.2 288.9 L475.6 286.7 L475.9 284.6 L476.3 283.7 L476.6 285.2 L477.0 283.5 L477.3 279.6 L477.7 279.5 L478.0 277.9 L478.3 276.3 L478.7 274.3 L479.0 272.0 L479.4 272.5 L479.7 270.6 L480.1 274.8 L480.4 273.9 L480.8 271.5 L481.1 275.8 L481.5 275.3 L481.8 271.0 L482.1 276.5 L482.5 274.4 L482.8 275.5 L483.2 269.2 L483.5 270.4 L483.9 268.6 L484.2 266.6 L484.6 265.0 L484.9 265.3 L485.3 260.9 L485.6 261.8 L486.0 262.8 L486.3 265.9 L486.6 268.1 L487.0 272.1 L487.3 274.3 L487.7 276.2 L488.0 277.2 L488.4 279.4 L488.7 283.1 L489.1 284.1 L489.4 284.2 L489.8 284.5 L490.1 288.1 L490.4 285.3 L490.8 287.7 L491.1 288.9 L491.5 287.0 L491.8 288.9 L492.2 286.1 L492.5 289.6 L492.9 288.4 L493.2 285.8 L493.6 289.4 L493.9 287.0 L494.2 290.4 L494.6 287.4 L494.9 288.2 L495.3 288.9 L495.6 288.0 L496.0 288.9 L496.3 287.6 L496.7 289.4 L497.0 288.3 L497.4 288.5 L497.7 283.8 L498.1 289.7 L498.4 287.8 L498.7 284.8 L499.1 287.4 L499.4 287.6 L499.8 288.1 L500.1 284.3 L500.5 287.7 L500.8 284.3 L501.2 287.4 L501.5 282.4 L501.9 282.5 L502.2 279.5 L502.5 276.8 L502.9 278.5 L503.2 276.4 L503.6 275.4 L503.9 272.4 L504.3 268.4 L504.6 265.1 L505.0 265.4 L505.3 264.7 L505.7 264.3 L506.0 267.0 L506.3 267.7 L506.7 268.3 L507.0 270.8 L507.4 272.3 L507.7 274.8 L508.1 277.5 L508.4 279.6 L508.8 278.7 L509.1 278.9 L509.5 284.7 L509.8 283.8 L510.2 286.3 L510.5 282.9 L510.8 285.6 L511.2 286.8 L511.5 285.0 L511.9 286.8 L512.2 289.1 L512.6 289.9 L512.9 290.9 L513.3 287.3 L513.6 286.7 L514.0 289.8 L514.3 290.6 L514.6 289.5 L515.0 287.3 L515.3 290.7 L515.7 290.8 L516.0 290.5 L516.4 288.9 L516.7 290.2 L517.1 291.0 L517.4 289.0 L517.8 287.0 L518.1 290.5 L518.4 290.7 L518.8 290.0 L519.1 291.4 L519.5 289.2 L519.8 290.0 L520.2 289.7 L520.5 291.1 L520.9 292.7 L521.2 289.8 L521.6 293.4 L521.9 292.7 L522.2 291.5 L522.6 291.2 L522.9 293.1 L523.3 290.1 L523.6 290.2 L524.0 288.7 L524.3 291.1 L524.7 292.5 L525.0 291.3 L525.4 291.1 L525.7 290.1 L526.1 290.7 L526.4 288.3 L526.7 292.1 L527.1 289.9 L527.4 288.8 L527.8 289.3 L528.1 289.2 L528.5 291.8 L528.8 292.2 L529.2 288.4 L529.5 292.0 L529.9 291.9 L530.2 289.6 L530.5 288.2 L530.9 289.4 L531.2 289.6 L531.6 291.1 L531.9 290.0 L532.3 287.4 L532.6 290.9 L533.0 288.2 L533.3 292.0 L533.7 288.7 L534.0 289.5 L534.3 289.3 L534.7 289.7 L535.0 292.6 L535.4 291.9 L535.7 291.5 L536.1 291.1 L536.4 288.2 L536.8 289.8 L537.1 289.7 L537.5 289.1 L537.8 291.4 L538.2 289.4 L538.5 289.5 L538.8 288.9 L539.2 287.4 L539.5 291.5 L539.9 292.6 L540.2 290.8 L540.6 289.0 L540.9 286.3 L541.3 290.8 L541.6 292.4 L542.0 290.9 L542.3 291.9 L542.6 292.8 L543.0 292.2 L543.3 289.8 L543.7 292.1 L544.0 291.6 L544.4 288.0 L544.7 289.7 L545.1 288.1 L545.4 290.2 L545.8 291.2 L546.1 288.6 L546.4 287.1 L546.8 292.2 L547.1 290.8 L547.5 292.4 L547.8 288.0 L548.2 291.7 L548.5 293.2 L548.9 293.0 L549.2 289.5 L549.6 290.2 L549.9 289.4 L550.3 291.1 L550.6 291.0 L550.9 289.4 L551.3 286.9 L551.6 290.0 L552.0 287.8 L552.3 289.2 L552.7 288.2 L553.0 289.8 L553.4 288.5 L553.7 285.4 L554.1 285.9 L554.4 287.3 L554.7 282.8 L555.1 283.4 L555.4 283.5 L555.8 282.6 L556.1 280.5 L556.5 276.8 L556.8 276.3 L557.2 278.2 L557.5 278.4 L557.9 282.0 L558.2 277.3 L558.5 281.2 L558.9 281.5 L559.2 278.7 L559.6 281.1 L559.9 283.6 L560.3 283.5 L560.6 284.8 L561.0 286.6 L561.3 285.2 L561.7 287.8 L562.0 286.6 L562.4 287.2 L562.7 289.2 L563.0 287.8 L563.4 289.3 L563.7 291.6 L564.1 289.3 L564.4 289.2 L564.8 290.6 L565.1 289.0 L565.5 291.4 L565.8 287.8 L566.2 290.8 L566.5 289.1 L566.8 288.7 L567.2 292.7 L567.5 288.7 L567.9 292.7 L568.2 291.0 L568.6 292.3 L568.9 288.5 L569.3 291.9 L569.6 292.4 L570.0 289.9 L570.3 289.9 L570.6 293.9 L571.0 290.4 L571.3 289.5 L571.7 289.1 L572.0 290.8 L572.4 290.6 L572.7 290.3 L573.1 292.7 L573.4 289.5 L573.8 290.8 L574.1 292.3 L574.5 288.4 L574.8 291.6 L575.1 292.7 L575.5 287.8 L575.8 288.1 L576.2 288.2 L576.5 286.9 L576.9 290.4 L577.2 286.7 L577.6 290.3 L577.9 291.7 L578.3 286.8 L578.6 288.7 L578.9 286.1 L579.3 290.1 L579.6 287.6 L580.0 288.1 L580.3 288.3 L580.7 288.8 L581.0 287.0 L581.4 287.2 L581.7 285.8 L582.1 286.3 L582.4 283.7 L582.7 284.9 L583.1 281.1 L583.4 282.5 L583.8 285.3 L584.1 281.4 L584.5 278.3 L584.8 279.6 L585.2 276.6 L585.5 274.5 L585.9 275.0 L586.2 276.5 L586.5 275.4 L586.9 274.3 L587.2 273.0 L587.6 273.0 L587.9 277.2 L588.3 276.3 L588.6 275.3 L589.0 274.5 L589.3 276.7 L589.7 283.8 L590.0 279.2 L590.4 281.9 L590.7 283.3 L591.0 283.6 L591.4 284.2 L591.7 283.2 L592.1 284.4 L592.4 289.2 L592.8 285.9 L593.1 288.8 L593.5 285.3 L593.8 287.8 L594.2 288.9 L594.5 290.3 L594.8 287.2 L595.2 290.0 L595.5 289.9 L595.9 288.3 L596.2 290.3 L596.6 288.2 L596.9 288.5 L597.3 289.8 L597.6 285.7 L598.0 289.8 L598.3 288.4 L598.6 287.8 L599.0 289.4 L599.3 291.3 L599.7 289.5 L600.0 292.2 L600.4 288.5 L600.7 288.2 L601.1 292.7 L601.4 291.0 L601.8 291.8 L602.1 289.1 L602.5 291.7 L602.8 290.8 L603.1 291.5 L603.5 290.5 L603.8 292.4 L604.2 289.5 L604.5 289.0 L604.9 288.3 L605.2 292.4 L605.6 289.4 L605.9 289.0 L606.3 289.1 L606.6 289.9 L606.9 288.7 L607.3 290.2 L607.6 289.7 L608.0 289.8 L608.3 289.2 L608.7 290.7 L609.0 290.0 L609.4 290.9 L609.7 291.1 L610.1 291.2 L610.4 287.3 L610.7 289.9 L611.1 289.5 L611.4 291.9 L611.8 288.3 L612.1 289.6 L612.5 290.3 L612.8 290.2 L613.2 292.3 L613.5 290.1 L613.9 292.3 L614.2 288.5 L614.6 288.0 L614.9 292.7 L615.2 291.5 L615.6 291.6 L615.9 291.0 L616.3 291.6 L616.6 288.9 L617.0 292.3 L617.3 290.0 L617.7 292.3 L618.0 291.0 L618.4 287.8 L618.7 288.8 L619.0 292.6 L619.4 290.6 L619.7 290.2 L620.1 291.2 L620.4 290.2 L620.8 290.0 L621.1 291.0 L621.5 291.1 L621.8 293.2 L622.2 290.9 L622.5 293.8 L622.8 293.7 L623.2 293.5 L623.5 292.5 L623.9 291.1 L624.2 291.1 L624.6 290.7 L624.9 289.7 L625.3 290.8 L625.6 289.9 L626.0 293.4 L626.3 291.7 L626.7 290.2 L627.0 287.9 L627.3 290.8 L627.7 290.2 L628.0 289.2 L628.4 289.1 L628.7 287.4 L629.1 291.8 L629.4 290.8 L629.8 294.9 L630.1 290.8 L630.5 290.7 L630.8 293.1 L631.1 291.1 L631.5 291.1 L631.8 290.3 L632.2 289.9 L632.5 293.2 L632.9 292.4 L633.2 293.5 L633.6 290.3 L633.9 290.9 L634.3 289.5 L634.6 292.4 L634.9 288.7 L635.3 291.7 L635.6 292.6 L636.0 293.1 L636.3 289.4 L636.7 292.6 L637.0 289.8 L637.4 289.7 L637.7 288.8 L638.1 292.6 L638.4 293.4 L638.8 289.9 L639.1 289.6 L639.4 290.2 L639.8 294.6 L640.1 292.2 L640.5 289.8 L640.8 287.7 L641.2 289.3 L641.5 292.0 L641.9 292.9 L642.2 289.3 L642.6 288.4 L642.9 288.3 L643.2 285.8 L643.6 289.8 L643.9 286.3 L644.3 289.2 L644.6 284.5 L645.0 284.9 L645.3 287.1 L645.7 285.3 L646.0 287.7 L646.4 286.6 L646.7 284.9 L647.0 288.0 L647.4 288.7 L647.7 284.9 L648.1 291.1 L648.4 289.4 L648.8 290.2 L649.1 286.5 L649.5 288.6 L649.8 289.4 L650.2 291.8 L650.5 288.1 L650.9 289.1 L651.2 287.4 L651.5 290.3 L651.9 291.3 L652.2 288.2 L652.6 289.9 L652.9 291.6 L653.3 293.3 L653.6 291.9 L654.0 290.4 L654.3 289.1 L654.7 289.4 L655.0 289.9 L655.3 291.1 L655.7 290.8 L656.0 293.5 L656.4 291.4 L656.7 289.3 L657.1 293.3 L657.4 292.4 L657.8 291.1 L658.1 289.8 L658.5 288.0 L658.8 289.3 L659.1 292.3 L659.5 289.7 L659.8 288.9 L660.2 291.2 L660.5 291.3 L660.9 291.8 L661.2 291.9 L661.6 293.0 L661.9 289.5 L662.3 292.3 L662.6 289.2 L662.9 291.8 L663.3 290.9 L663.6 290.9 L664.0 292.0 L664.3 290.4 L664.7 292.0 L665.0 291.5 L665.4 290.3 L665.7 289.1 L666.1 288.6 L666.4 288.8 L666.8 289.1 L667.1 289.2 L667.4 293.7 L667.8 289.8 L668.1 289.8 L668.5 287.0 L668.8 287.0 L669.2 287.4 L669.5 288.0 L669.9 285.8 L670.2 289.7 L670.6 286.1 L670.9 288.4 L671.2 283.0 L671.6 286.4 L671.9 286.7 L672.3 286.4 L672.6 286.9 L673.0 286.3 L673.3 286.1 L673.7 282.9 L674.0 284.7 L674.4 282.2 L674.7 286.8 L675.0 286.4 L675.4 285.6 L675.7 284.8 L676.1 285.2 L676.4 289.1 L676.8 289.0 L677.1 286.3 L677.5 288.5 L677.8 284.1 L678.2 283.6 L678.5 285.9 L678.9 285.4 L679.2 285.9 L679.5 287.0 L679.9 291.4 L680.2 285.6 L680.6 286.7 L680.9 287.0 L681.3 286.4 L681.6 287.8 L682.0 289.0 L682.3 284.3 L682.7 286.3 L683.0 285.6 L683.3 286.5 L683.7 283.5 L684.0 283.1 L684.4 282.2 L684.7 286.6 L685.1 286.1 L685.4 286.0 L685.8 282.3 L686.1 285.5 L686.5 285.0 L686.8 284.1 L687.1 285.0 L687.5 287.7 L687.8 287.7 L688.2 287.0 L688.5 288.1 L688.9 286.6 L689.2 287.9 L689.6 288.1 L689.9 289.1 L690.3 288.4 L690.6 288.5 L691.0 288.7 L691.3 288.1 L691.6 292.8 L692.0 290.3 L692.3 290.4 L692.7 293.4 L693.0 292.2 L693.4 287.7 L693.7 291.3 L694.1 291.7 L694.4 293.4 L694.8 292.6 L695.1 291.8 L695.4 288.8 L695.8 289.4 L696.1 291.2 L696.5 291.6 L696.8 289.3 L697.2 290.3 L697.5 290.3 L697.9 291.0 L698.2 291.5 L698.6 290.5 L698.9 289.0 L699.2 292.9 L699.6 293.4 L699.9 290.8 L700.3 292.6 L700.6 291.7 L701.0 292.0 L701.3 291.7 L701.7 289.8 L702.0 291.9 L702.4 292.6 L702.7 289.6 L703.1 294.0 L703.4 294.2 L703.7 293.8 L704.1 294.1 L704.4 292.1 L704.8 290.5 L705.1 290.1 L705.5 289.7 L705.8 291.2 L706.2 290.9 L706.5 292.0 L706.9 287.9 L707.2 294.6 L707.5 294.5 L707.9 290.9 L708.2 292.0 L708.6 291.7 L708.9 291.4 L709.3 290.7 L709.6 290.8 L710.0 289.7 L710.3 291.3 L710.7 291.0 L711.0 291.5 L711.3 289.7 L711.7 291.1 L712.0 291.1 L712.4 291.9 L712.7 289.3 L713.1 291.6 L713.4 292.5 L713.8 291.9 L714.1 290.4 L714.5 290.2 L714.8 290.6 L715.2 292.1 L715.5 293.4 L715.8 290.7 L716.2 290.0 L716.5 291.6 L716.9 291.3 L717.2 289.6 L717.6 289.8 L717.9 290.8 L718.3 292.0 L718.6 289.1 L719.0 289.4 L719.3 291.8 L719.6 289.1 L720.0 291.2 L720.3 291.5 L720.7 290.8 L721.0 289.4 L721.4 290.9 L721.7 290.5 L722.1 291.5 L722.4 289.7 L722.8 292.7 L723.1 288.4 L723.4 290.7 L723.8 291.0 L724.1 292.5 L724.5 290.0 L724.8 291.8 L725.2 290.1 L725.5 292.1 L725.9 293.7 L726.2 290.4 L726.6 291.7 L726.9 289.6 L727.2 292.5 L727.6 292.9 L727.9 291.1 L728.3 289.2 L728.6 291.6 L729.0 292.8 L729.3 292.7 L729.7 292.3 L730.0 288.2 L730.4 289.9 L730.7 293.2 L731.1 289.1 L731.4 292.8 L731.7 293.9 L732.1 292.2 L732.4 292.7 L732.8 290.5 L733.1 289.1 L733.5 290.8 L733.8 290.7 L734.2 290.9 L734.5 292.1 L734.9 290.8 L735.2 291.3 L735.5 291.7 L735.9 291.0 L736.2 293.9 L736.6 291.7 L736.9 291.1 L737.3 290.7 L737.6 290.0 L738.0 293.1 L738.3 291.2 L738.7 289.3 L739.0 290.1 L739.3 290.8 L739.7 290.3 L740.0 292.7 L740.4 289.2 L740.7 291.8 L741.1 291.2 L741.4 289.2 L741.8 291.1 L742.1 290.9 L742.5 291.8 L742.8 290.3 L743.2 291.5 L743.5 288.4 L743.8 289.3 L744.2 292.2 L744.5 292.6 L744.9 291.0 L745.2 290.1 L745.6 292.7 L745.9 287.8 L746.3 289.8 L746.6 292.0 L747.0 292.0 L747.3 289.4 L747.6 288.0 L748.0 293.2 L748.3 291.2 L748.7 289.5 L749.0 291.0 L749.4 292.3 L749.7 286.8 L750.1 292.5 L750.4 291.9 L750.8 287.5 L751.1 291.9 L751.4 287.8 L751.8 292.3 L752.1 291.0 L752.5 293.8 L752.8 289.2 L753.2 290.0 L753.5 291.5 L753.9 288.7 L754.2 288.4 L754.6 288.7 L754.9 289.0 L755.3 287.3 L755.6 289.5 L755.9 289.4 L756.3 288.6 L756.6 290.9 L757.0 287.7 L757.3 290.1 L757.7 287.2 L758.0 289.2 L758.4 285.0 L758.7 288.3 L759.1 287.8 L759.4 287.4" stroke="#0000ff" stroke-width="3.6" fill="none" stroke-linejoin="round" stroke-linecap="round"/>
<rect x="68.0" y="11.6" width="691.4" height="512.05" fill="none" stroke="#000" stroke-width="2.9" stroke-linejoin="round"/>
<path d="M183.2 523.6 V533.2 M413.7 523.6 V533.2 M644.2 523.6 V533.2 M68.0 523.6 V529.2 M298.5 523.6 V529.2 M528.9 523.6 V529.2 M759.4 523.6 V529.2" stroke="#000" stroke-width="2.8" fill="none" stroke-linecap="round"/>
<text transform="translate(166.90 562.0) scale(1.080 1.070)" font-size="26.4" stroke="#fff" stroke-width="0.35">4</text>
<text transform="translate(183.00 562.0) scale(1.080 1.070)" font-size="26.4" stroke="#fff" stroke-width="0.35">0</text>
<text transform="translate(397.17 562.0) scale(1.080 1.070)" font-size="26.4" stroke="#fff" stroke-width="0.35">6</text>
<text transform="translate(413.47 562.0) scale(1.080 1.070)" font-size="26.4" stroke="#fff" stroke-width="0.35">0</text>
<text transform="translate(627.74 562.0) scale(1.080 1.070)" font-size="26.4" stroke="#fff" stroke-width="0.35">8</text>
<text transform="translate(643.94 562.0) scale(1.080 1.070)" font-size="26.4" stroke="#fff" stroke-width="0.35">0</text>
<text transform="translate(345.27 594.80) scale(1 1.105)" font-size="26.8" class="b">2</text>
<text transform="translate(376.78 594.80) scale(1 1.000)" font-size="26.8">/</text>
<text transform="translate(384.80 594.80) scale(1 1.105)" font-size="26.8" class="b">d</text>
<text transform="translate(402.88 594.80) scale(1 1.105)" font-size="26.8" class="b">e</text>
<text transform="translate(419.11 594.80) scale(1 1.105)" font-size="26.8" class="b">g</text>
<text transform="translate(438.15 594.80) scale(1 1.105)" font-size="26.8" class="b">r</text>
<text transform="translate(449.08 594.80) scale(1 1.105)" font-size="26.8" class="b">e</text>
<text transform="translate(465.93 594.80) scale(1 1.105)" font-size="26.8" class="b">e</text>
<text transform="translate(361.01 595.10) scale(1.11 1.034)" font-size="27" style="font-family:'Liberation Serif',serif">θ</text>
<text transform="translate(32.9 391.19) rotate(-90) scale(1 1.160)" font-size="26.8" letter-spacing="1.84" class="b">Intensity</text>
<text transform="translate(32.9 255.23) rotate(-90) scale(1 1.160)" font-size="26.8" letter-spacing="1.19" class="b">(a.u.)</text>
<path d="M408.9 45.1 H461.9" stroke="#0000ff" stroke-width="3.1" stroke-linecap="round" fill="none"/>
<path d="M408.9 83.2 H461.9" stroke="#ff0000" stroke-width="3.1" stroke-linecap="round" fill="none"/>
<path d="M408.9 120.6 H461.9" stroke="#000" stroke-width="3.1" stroke-linecap="round" fill="none"/>
<text transform="translate(0 52.60) scale(1 1.040)" x="470.15 491.47 508.80 537.99 558.58 578.09" y="0" font-size="28.20" class="l">Ag@CuO</text>
<text transform="translate(0 90.10) scale(1 1.040)" x="470.09 493.08 511.14" y="0" font-size="28.20" class="l">CuO</text>
<text transform="translate(0 127.70) scale(1 1.040)" x="470.58 480.09 501.64 523.44 553.46 576.59" y="0" font-size="28.20" class="l">ICDDNO</text>
<text transform="translate(0 127.70) scale(1 1.040)" x="597.00 606.52 623.92 641.02 651.98 669.19 685.94 701.27" y="0" font-size="28.20" class="b">:45-0937</text>
<g transform="translate(105.40 262.10) rotate(-90) scale(1 1.040)" class="pl">
<text x="0.00" y="0" font-size="26.60">(</text>
<path transform="translate(9.83 0) scale(0.01299 -0.01299)" d="M771 0H502V1013Q355 876 155 810V1054Q260 1088 384 1184Q507 1280 553 1409H771Z" stroke-width="19.2"/>
<path d="M9.23 -22.6 H21.23" style="stroke:#000;stroke-width:2.1px;fill:none"/>
<path transform="translate(25.60 0) scale(0.01299 -0.01299)" d="M771 0H502V1013Q355 876 155 810V1054Q260 1088 384 1184Q507 1280 553 1409H771Z" stroke-width="19.2"/>
<text x="41.37" y="0" font-size="26.60">0</text>
<text x="57.14" y="0" font-size="26.60">)</text>
</g>
<g transform="translate(118.30 81.60) rotate(-90) scale(1 1.040)" class="pl">
<text x="0.00" y="0" font-size="26.60">(</text>
<text x="9.61" y="0" font-size="26.60">0</text>
<text x="25.15" y="0" font-size="26.60">0</text>
<text x="40.70" y="0" font-size="26.60">2</text>
<text x="56.24" y="0" font-size="26.60">)</text>
</g>
<g transform="translate(175.60 79.60) rotate(-90) scale(1 1.040)" class="pl">
<text x="0.00" y="0" font-size="26.60">(</text>
<path transform="translate(9.61 0) scale(0.01299 -0.01299)" d="M771 0H502V1013Q355 876 155 810V1054Q260 1088 384 1184Q507 1280 553 1409H771Z" stroke-width="19.2"/>
<path transform="translate(25.15 0) scale(0.01299 -0.01299)" d="M771 0H502V1013Q355 876 155 810V1054Q260 1088 384 1184Q507 1280 553 1409H771Z" stroke-width="19.2"/>
<path transform="translate(40.70 0) scale(0.01299 -0.01299)" d="M771 0H502V1013Q355 876 155 810V1054Q260 1088 384 1184Q507 1280 553 1409H771Z" stroke-width="19.2"/>
<text x="56.24" y="0" font-size="26.60">)</text>
</g>
<g transform="translate(292.30 213.80) rotate(-90) scale(1 1.040)" class="pl">
<text x="0.00" y="0" font-size="26.60">(</text>
<text x="9.61" y="0" font-size="26.60">2</text>
<path d="M11.91 -22.6 H23.91" style="stroke:#000;stroke-width:2.1px;fill:none"/>
<text x="25.15" y="0" font-size="26.60">0</text>
<text x="40.70" y="0" font-size="26.60">2</text>
<text x="56.24" y="0" font-size="26.60">)</text>
</g>
<g transform="translate(348.50 256.20) rotate(-90) scale(1 1.040)" class="pl">
<text x="0.00" y="0" font-size="26.60">(</text>
<text x="9.58" y="0" font-size="26.60">0</text>
<text x="25.10" y="0" font-size="26.60">2</text>
<text x="40.62" y="0" font-size="26.60">0</text>
<text x="56.14" y="0" font-size="26.60">)</text>
</g>
<g transform="translate(401.70 244.60) rotate(-90) scale(1 1.040)" class="pl">
<text x="0.00" y="0" font-size="26.60">(</text>
<text x="9.61" y="0" font-size="26.60">2</text>
<text x="25.15" y="0" font-size="26.60">0</text>
<text x="40.70" y="0" font-size="26.60">2</text>
<text x="56.24" y="0" font-size="26.60">)</text>
</g>
<g transform="translate(444.40 231.20) rotate(-90) scale(1 1.040)" class="pl">
<text x="0.00" y="0" font-size="26.60">(</text>
<path transform="translate(9.81 0) scale(0.01299 -0.01299)" d="M771 0H502V1013Q355 876 155 810V1054Q260 1088 384 1184Q507 1280 553 1409H771Z" stroke-width="19.2"/>
<path d="M9.21 -22.6 H21.21" style="stroke:#000;stroke-width:2.1px;fill:none"/>
<path transform="translate(25.55 0) scale(0.01299 -0.01299)" d="M771 0H502V1013Q355 876 155 810V1054Q260 1088 384 1184Q507 1280 553 1409H771Z" stroke-width="19.2"/>
<text x="41.30" y="0" font-size="26.60">3</text>
<text x="57.04" y="0" font-size="26.60">)</text>
</g>
<g transform="translate(487.00 242.80) rotate(-90) scale(1 1.040)" class="pl">
<text x="0.00" y="0" font-size="26.60">(</text>
<text x="9.61" y="0" font-size="26.60">0</text>
<text x="25.15" y="0" font-size="26.60">2</text>
<text x="40.70" y="0" font-size="26.60">2</text>
<text x="56.24" y="0" font-size="26.60">)</text>
</g>
<g transform="translate(519.70 248.20) rotate(-90) scale(1 1.040)" class="pl">
<text x="0.00" y="0" font-size="26.60">(</text>
<path transform="translate(9.71 0) scale(0.01299 -0.01299)" d="M771 0H502V1013Q355 876 155 810V1054Q260 1088 384 1184Q507 1280 553 1409H771Z" stroke-width="19.2"/>
<path transform="translate(25.35 0) scale(0.01299 -0.01299)" d="M771 0H502V1013Q355 876 155 810V1054Q260 1088 384 1184Q507 1280 553 1409H771Z" stroke-width="19.2"/>
<text x="41.00" y="0" font-size="26.60">3</text>
<text x="56.64" y="0" font-size="26.60">)</text>
</g>
<g transform="translate(567.00 258.00) rotate(-90) scale(1 1.040)" class="pl">
<text x="0.00" y="0" font-size="26.60">(</text>
<text x="9.36" y="0" font-size="26.60">3</text>
<path transform="translate(24.65 0) scale(0.01299 -0.01299)" d="M771 0H502V1013Q355 876 155 810V1054Q260 1088 384 1184Q507 1280 553 1409H771Z" stroke-width="19.2"/>
<path transform="translate(39.95 0) scale(0.01299 -0.01299)" d="M771 0H502V1013Q355 876 155 810V1054Q260 1088 384 1184Q507 1280 553 1409H771Z" stroke-width="19.2"/>
<text x="55.24" y="0" font-size="26.60">)</text>
</g>
<g transform="translate(598.50 269.60) rotate(-90) scale(1 1.040)" class="pl">
<text x="0.00" y="0" font-size="26.60">(</text>
<text x="9.71" y="0" font-size="26.60">0</text>
<text x="25.35" y="0" font-size="26.60">0</text>
<text x="41.00" y="0" font-size="26.60">4</text>
<text x="56.64" y="0" font-size="26.60">)</text>
</g>
</svg></body></html>
